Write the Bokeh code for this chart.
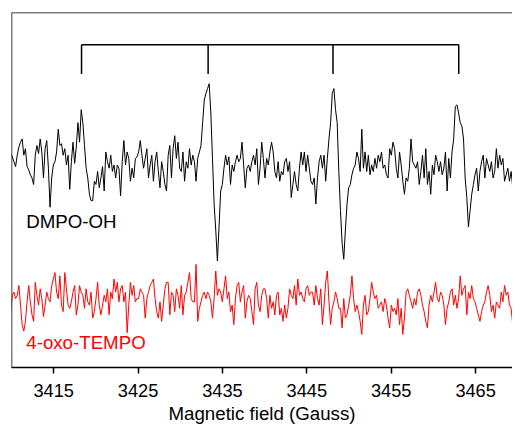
import numpy as np
from bokeh.plotting import figure
from bokeh.models import Range1d, Span, Label, FixedTicker
from bokeh.embed import file_html
from bokeh.resources import INLINE

# Field sweep of the recorded spectra (Gauss)
field_start = 3409.9
field_end = 3469.4

# DMPO-OH spectrum (arbitrary units)
dmpo_oh = [
    25, 15, 0, -15, 20, 45, 60, 70, 20, 40,
    -15, -25, -40, -50, -70, 20, 50, 25, 70, 30,
    -50, 40, 65, -20, -140, -50, -10, 0, 30, 100,
    50, 55, 20, 40, -10, 20, -85, 0, 60, -5,
    45, 120, 60, 160, 120, 50, -20, -50, -100, -120,
    -120, -60, -70, -30, -80, -50, -15, -90, 30, 0,
    -20, 20, -30, -10, -50, -10, -20, -105, 0, 65,
    -10, 30, 10, -60, -20, -50, 10, 15,
    30, 65, 20, -20, 10, 40, -50, -10, 20, -60,
    0, 30, -30, -80, 0, -30, -70, -90, 20, 50,
    -50, 40, 80, 10, 60, -20, -30, 30, -60, 0,
    -20, 40, -10, 20, 0, -60, 10, 30, 50, 120,
    190, 210, 225, 240, 150, 10, -130, -210, -305, -200,
    -90, -70, -20, 20, -10, 15, -70, -10, -30, 0,
    20, 0, 10, 60, -10, -80, -20, -10, -30, 0,
    20, -10, 40, -70, -20, 60, 10,
    -50, 10, -10, 30, 60, 30, -30, -50, 0, -60,
    -30, -40, 0, 10, -30, 0, -110, -70, -30, -70,
    -90, -20, 30, -10, 30, -30, 20, -20, -60, -70,
    -50, -130, -50, 0, 20, -20, 20, -60, 10, 70,
    120, 210, 225, 160, 120, -30, -150, -250, -300, -210,
    -130, -80, -70, -40, -20, -10, 30, 10, -30, 100,
    -20, 30, -30, 20, -40, -10, -30, 10, -20, 20,
    0, 30, -20, -10, -40, -50, 40,
    20, 60, 40, -20, -50, 30, -10, -60, -100, -50,
    -60, -20, 70, 0, -10, -20, 0, -70, -30, 20,
    -50, 40, -70, -30, -100, -10, -40, 20, 0, -30,
    0, -40, -20, 30, -90, 10, -50, 30, 70, 170,
    175, 150, 120, 110, 70, -50, -110, -200, -150, -100,
    -70, -40, -20, -90, -30, 0, 20, -50, 10, -10,
    -30, 0, -50, -30, 40, -20, 20, -10, 10, -60,
    -40, -20, -60, -30, -80,
]

# 4-oxo-TEMPO spectrum (arbitrary units)
oxo_tempo = [
    -35, 15, 25, 5, 15, 45, -15, -75, -95, -65,
    -5, 45, -5, -45, -65, 55, 15, -15, 35, 5,
    -50, -15, 25, 5, -5, 45, 65, 85, 25, 5,
    75, -15, -35, 85, 35, -15, -25, -5, 25, 45,
    -45, -15, 45, 25, 15, -25, 35, -5, -15, 25,
    -55, -35, 5, 55, -15, -45, -15, 15, -5, 35,
    -45, 25, 5, 65, 25, 55, -5, 35, 45, -5,
    25, -100, -15, 55, 15, 45, -5, 5,
    5, 35, 25, 15, -55, 5, 25, 45, 55, 65,
    5, -35, -55, -5, -65, -15, 35, 55, 55, -45,
    25, 15, -35, 35, 15, -25, 45, -45, 15, 25,
    55, 85, 5, -5, -5, 110, -65, -25, -5, 15,
    25, 5, 25, 15, -5, -55, 5, 90, 15, 35,
    25, -5, 35, 75, 5, 25, -35, -15, -75, 5,
    45, 55, -5, 25, 45, -55, -5, 15, 5, -35,
    -75, 35, 55, -15, -35, 15, 35,
    35, 5, -55, 15, -25, -5, -45, 15, 25, -45,
    -25, -65, -15, -55, -25, 35, 15, 5, 45, -15,
    65, 15, 25, 5, -5, 35, 45, 15, 25, 25,
    -15, 45, 5, -15, 35, -75, -15, 55, 90, -5,
    -75, -25, -5, 25, 5, -25, -25, -85, 5, -55,
    -45, -15, 15, 75, 5, -35, -15, -35, -65, -105,
    -15, 15, -45, -35, 5, 55, 25, 5, 15, -25,
    -15, -5, -35, 5, -15, -55, -85,
    -15, -35, -25, -45, 5, -75, -25, -105, -55, 25,
    35, 15, -5, -25, 5, -15, 25, 35, 15, -15,
    -35, -65, -85, -15, 15, -5, 25, 55, 5, -5,
    25, 15, -15, -75, -25, -5, 25, 35, -15, 15,
    -25, 5, 75, 15, 35, 45, -45, 25, 5, 45,
    5, -5, -25, -45, -65, -35, -15, -5, 25, 45,
    15, -35, -15, -55, -5, -15, -25, 25, -5, 45,
    15, 25, -15, -25, -75,
]

# Quartet line positions of DMPO-OH (Gauss)
peak_fields = [3418.3, 3433.3, 3448.1, 3463.0]
tick_fields = [3415, 3425, 3435, 3445, 3455, 3465]
series_names = ["DMPO-OH", "4-oxo-TEMPO"]
x_label = "Magnetic field (Gauss)"

FONT = "Liberation Sans"
x0, x1 = 3410.0, 3469.37
y0, y1 = 0.0, 1092.0
dmpo_offset = 633
tempo_offset = 207

p = figure(width=512, height=426, output_backend="svg", toolbar_location=None,
           x_range=Range1d(x0, x1), y_range=Range1d(y0, y1),
           min_border_left=11, min_border_right=0, min_border_top=12, min_border_bottom=0)
p.outline_line_color = None
p.xgrid.visible = False
p.ygrid.visible = False
p.yaxis.visible = False
p.background_fill_color = "white"
p.border_fill_color = "white"

fields_a = np.linspace(field_start, field_end, len(dmpo_oh))
fields_b = np.linspace(field_start, field_end, len(oxo_tempo))
p.line(fields_a, np.array(dmpo_oh) + dmpo_offset, line_color="black", line_width=1)
p.line(fields_b, np.array(oxo_tempo) + tempo_offset, line_color="#ff0000", line_width=1)

# bracket marking the quartet
bar_y = 993
tick_y = 903
p.segment(x0=[peak_fields[0]], y0=[bar_y], x1=[peak_fields[-1]], y1=[bar_y],
          line_color="black", line_width=1.5)
p.segment(x0=peak_fields, y0=[tick_y] * len(peak_fields), x1=peak_fields,
          y1=[bar_y] * len(peak_fields), line_color="black", line_width=1.5)

# frame lines (left and top)
p.add_layout(Span(location=x0, dimension="height", line_color="black", line_width=1.5))
p.add_layout(Span(location=y1, dimension="width", line_color="black", line_width=1.5))

p.add_layout(Label(x=3411.75, y=416, text=series_names[0], text_font=FONT,
                   text_font_size="18.7px", text_color="black"))
p.add_layout(Label(x=3411.75, y=45, text=series_names[1], text_font=FONT,
                   text_font_size="18.7px", text_color="#ff0000"))

ax = p.xaxis[0]
ax.ticker = FixedTicker(ticks=tick_fields, minor_ticks=[])
ax.axis_label = x_label
ax.axis_label_text_font = FONT
ax.axis_label_text_font_size = "18.7px"
ax.axis_label_text_font_style = "normal"
ax.axis_label_text_color = "black"
ax.axis_label_standoff = 3
ax.major_label_text_font = FONT
ax.major_label_text_font_size = "18.2px"
ax.major_label_text_color = "black"
ax.major_label_standoff = 10
ax.axis_line_color = "black"
ax.axis_line_width = 1.5
ax.major_tick_line_color = "black"
ax.major_tick_line_width = 1.5
ax.major_tick_in = 0
ax.major_tick_out = 6
ax.minor_tick_line_color = None

open("out.html", "w").write(file_html(p, INLINE))
